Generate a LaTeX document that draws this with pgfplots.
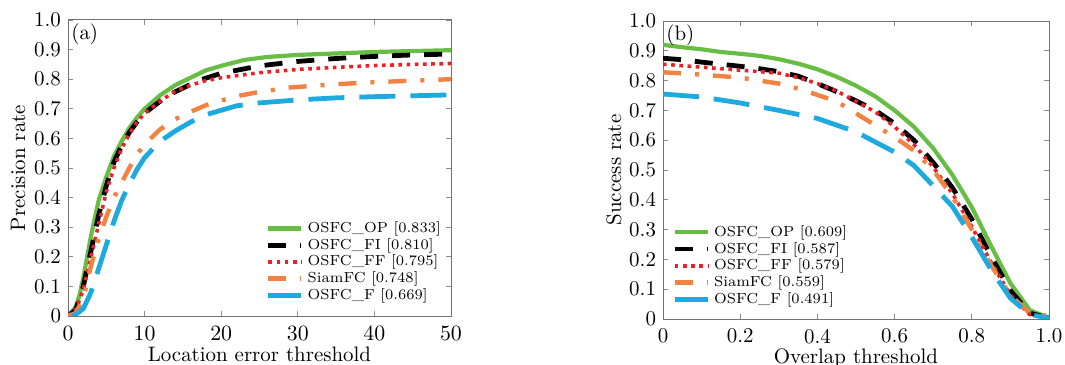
\documentclass[border=0pt]{standalone}
\usepackage{pgfplots}
\pgfplotsset{compat=1.18}
\definecolor{cgreen}{RGB}{104,189,69}
\definecolor{cred}{RGB}{236,32,38}
\definecolor{corange}{RGB}{242,130,66}
\definecolor{cblue}{RGB}{30,170,222}
\pgfplotsset{
  common/.style={
    scale only axis,
    anchor=south west,
    axis line style={black!55, line width=0.5pt},
    tick style={black!45, line width=0.4pt},
    tick align=inside,
    major tick length=2.5pt,
    ymin=0, ymax=1,
    ytick={0,0.1,0.2,0.3,0.4,0.5,0.6,0.7,0.8,0.9,1.0},
    yticklabels={0,0.1,0.2,0.3,0.4,0.5,0.6,0.7,0.8,0.9,1.0},
    tick label style={font=\fontsize{10.5}{12}\selectfont},
    label style={font=\fontsize{10.5}{12}\selectfont},
    xticklabel shift=1.5pt,
    legend style={draw=none, fill=none, font=\fontsize{7.3}{8}\selectfont,
      row sep=-2.6pt, inner sep=1pt},
    legend cell align=left,
    legend image code/.code={\draw[##1] (0bp,0bp) -- (16.5bp,0bp);},
  },
  sgreen/.style={cgreen, line width=2.1bp, solid},
  sblack/.style={black, line width=2.4bp, dash pattern=on 9bp off 7bp},
  sred/.style={cred, line width=1.8bp, dash pattern=on 1.8bp off 2.3bp},
  sorange/.style={corange, line width=2.2bp, dash pattern=on 9bp off 7bp on 2bp off 7bp},
  sblue/.style={cblue, line width=2.4bp, dash pattern=on 18bp off 7.5bp},
}
\begin{document}
\begin{tikzpicture}
\path[use as bounding box] (0,0) rectangle (532.5bp,182.5bp);
\begin{axis}[common,
  at={(34bp,24.5bp)}, width=191.5bp, height=148bp,
  xmin=0, xmax=50, xtick={0,10,20,30,40,50},
  xlabel={Location error threshold}, ylabel={Precision rate},
  xlabel style={at={(axis description cs:0.5,-0.155)}, anchor=base, inner sep=0pt},
  ylabel style={at={(axis description cs:-0.13,0.5)}, anchor=center},
  legend style={at={(axis cs:49.5,0.025)}, anchor=south east},
]
\addplot[sgreen] coordinates {(0,0) (1,0.03) (1.5,0.07) (2,0.13) (3,0.27) (4,0.39) (5,0.47) (6,0.54) (7,0.59) (8,0.635) (9,0.67) (10,0.70) (12,0.745) (14,0.78) (16,0.805) (18,0.83) (20,0.845) (23,0.865) (26,0.875) (30,0.882) (35,0.887) (40,0.892) (45,0.895) (50,0.898)};
\addlegendentry{OSFC\_OP [0.833]}
\addplot[sblack] coordinates {(0,0) (1,0.02) (2,0.10) (3,0.22) (4,0.34) (5,0.44) (6,0.52) (7,0.575) (8,0.62) (9,0.655) (10,0.685) (11.5,0.715) (13,0.745) (15,0.77) (17,0.795) (20,0.82) (25,0.845) (30,0.86) (35,0.87) (40,0.877) (45,0.882) (50,0.885)};
\addlegendentry{OSFC\_FI [0.810]}
\addplot[sred] coordinates {(0,0) (1,0.02) (2,0.09) (3,0.20) (4,0.31) (5,0.42) (6,0.50) (7,0.565) (8,0.615) (9,0.655) (10,0.685) (12,0.725) (14,0.76) (16,0.78) (18,0.795) (20,0.805) (25,0.822) (30,0.833) (35,0.84) (40,0.846) (45,0.85) (50,0.853)};
\addlegendentry{OSFC\_FF [0.795]}
\addplot[sorange] coordinates {(0,0) (1,0.01) (2,0.06) (3,0.17) (4,0.26) (5,0.335) (6,0.40) (7,0.45) (8,0.50) (9,0.545) (10,0.58) (12,0.63) (14,0.665) (16,0.69) (18,0.712) (20,0.728) (22.5,0.745) (25,0.757) (29,0.772) (35,0.783) (40,0.79) (45,0.795) (50,0.80)};
\addlegendentry{SiamFC [0.748]}
\addplot[sblue] coordinates {(0.5,0) (1,0.005) (2,0.025) (3,0.08) (4,0.16) (5,0.24) (6,0.32) (7,0.39) (8,0.445) (9,0.495) (10,0.535) (12,0.59) (14,0.625) (16,0.655) (18,0.68) (20,0.695) (22,0.71) (25,0.72) (30,0.73) (35,0.737) (40,0.741) (45,0.744) (50,0.747)};
\addlegendentry{OSFC\_F [0.669]}
\node[anchor=north west, font=\fontsize{10.5}{12}\selectfont, inner sep=1.5pt] at (rel axis cs:0,1) {(a)};
\end{axis}
\begin{axis}[common,
  at={(331.5bp,23bp)}, width=193bp, height=149bp,
  xmin=0, xmax=1, xtick={0,0.2,0.4,0.6,0.8,1.0},
  xticklabels={0,0.2,0.4,0.6,0.8,1.0},
  xlabel={Overlap threshold}, ylabel={Success rate},
  xlabel style={at={(axis description cs:0.5,-0.15)}, anchor=base, inner sep=0pt},
  ylabel style={at={(axis description cs:-0.127,0.5)}, anchor=center},
  legend style={at={(axis cs:0.018,0.022)}, anchor=south west},
]
\addplot[sgreen] coordinates {(0,0.92) (0.05,0.912) (0.1,0.905) (0.15,0.896) (0.2,0.89) (0.25,0.883) (0.3,0.872) (0.35,0.857) (0.4,0.838) (0.45,0.813) (0.5,0.783) (0.55,0.747) (0.6,0.70) (0.65,0.645) (0.7,0.573) (0.75,0.483) (0.8,0.375) (0.85,0.245) (0.9,0.12) (0.95,0.03) (1.0,0.003)};
\addlegendentry{OSFC\_OP [0.609]}
\addplot[sblack] coordinates {(0,0.875) (0.05,0.87) (0.1,0.862) (0.15,0.855) (0.2,0.848) (0.25,0.84) (0.3,0.83) (0.35,0.815) (0.4,0.79) (0.45,0.763) (0.5,0.732) (0.55,0.70) (0.6,0.656) (0.65,0.60) (0.7,0.525) (0.75,0.44) (0.8,0.335) (0.85,0.21) (0.9,0.095) (0.95,0.02) (1.0,0.003)};
\addlegendentry{OSFC\_FI [0.587]}
\addplot[sred] coordinates {(0,0.855) (0.1,0.845) (0.2,0.835) (0.3,0.825) (0.35,0.81) (0.4,0.79) (0.45,0.765) (0.5,0.73) (0.55,0.695) (0.6,0.645) (0.65,0.585) (0.7,0.51) (0.75,0.42) (0.8,0.31) (0.85,0.19) (0.9,0.08) (0.95,0.015) (1.0,0.003)};
\addlegendentry{OSFC\_FF [0.579]}
\addplot[sorange] coordinates {(0,0.828) (0.1,0.82) (0.2,0.81) (0.3,0.79) (0.35,0.773) (0.4,0.752) (0.45,0.73) (0.5,0.69) (0.55,0.65) (0.6,0.61) (0.65,0.565) (0.7,0.50) (0.75,0.41) (0.8,0.30) (0.85,0.18) (0.9,0.08) (0.95,0.02) (1.0,0.01)};
\addlegendentry{SiamFC [0.559]}
\addplot[sblue] coordinates {(0,0.755) (0.1,0.745) (0.2,0.725) (0.3,0.70) (0.4,0.673) (0.5,0.628) (0.6,0.56) (0.65,0.515) (0.7,0.447) (0.75,0.377) (0.8,0.275) (0.85,0.165) (0.9,0.07) (0.95,0.015) (1.0,0.003)};
\addlegendentry{OSFC\_F [0.491]}
\node[anchor=north west, font=\fontsize{10.5}{12}\selectfont, inner sep=1.5pt] at (rel axis cs:0,1) {(b)};
\end{axis}
\end{tikzpicture}
\end{document}
